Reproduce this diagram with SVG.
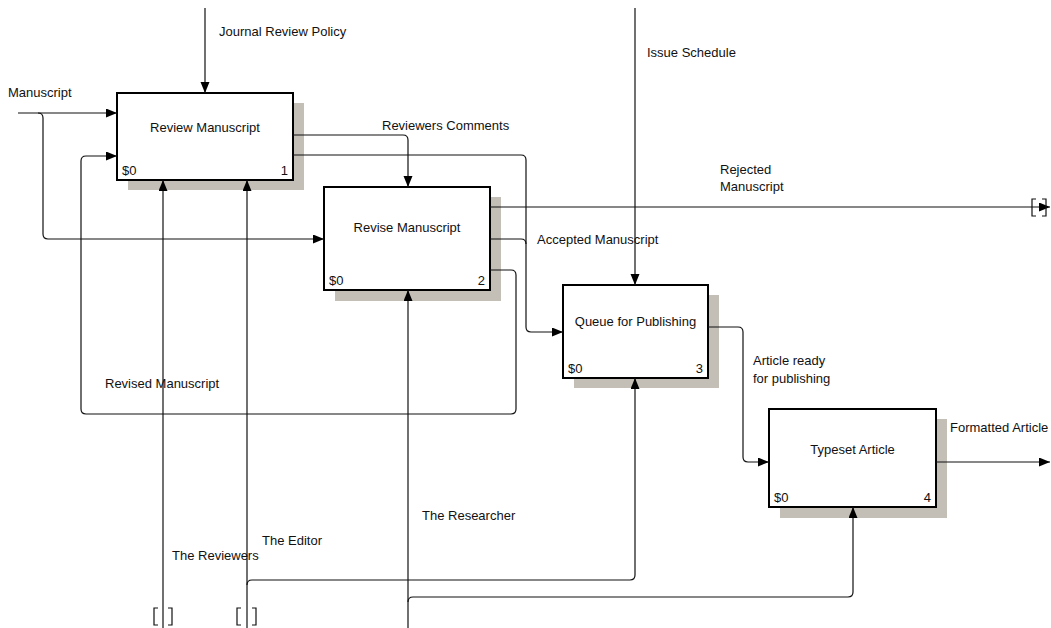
<svg xmlns="http://www.w3.org/2000/svg" width="1051" height="628" viewBox="0 0 1051 628">
<style>
text{font-family:"Liberation Sans",Arial,sans-serif;font-size:13px;fill:#111}
.mid{text-anchor:middle}
.end{text-anchor:end}
.box{fill:#fff;stroke:#000;stroke-width:2}
.shd{fill:#c3bfb6}
.c{fill:none;stroke:#111;stroke-width:1.2}
.t{fill:none;stroke:#111;stroke-width:1.2}
</style>
<defs>
<marker id="ah" markerUnits="userSpaceOnUse" markerWidth="12" markerHeight="10" refX="11" refY="4.5" orient="auto">
<path d="M0,0 L11,4.5 L0,9 z" fill="#000"/>
</marker>
</defs>
<g id="node1">
<rect class="shd" x="128" y="103" width="176" height="87"/>
<rect class="box" x="117" y="93" width="176" height="87"/>
<text class="mid" x="205" y="132">Review Manuscript</text>
<text x="122" y="175">$0</text>
<text class="end" x="288" y="175">1</text>
</g>
<g id="node2">
<rect class="shd" x="335" y="197" width="166" height="104"/>
<rect class="box" x="324" y="187" width="166" height="103"/>
<text class="mid" x="407" y="232">Revise Manuscript</text>
<text x="329" y="285">$0</text>
<text class="end" x="485" y="285">2</text>
</g>
<g id="node3">
<rect class="shd" x="574" y="295" width="145" height="93"/>
<rect class="box" x="563" y="285" width="145" height="93"/>
<text class="mid" x="635.5" y="326">Queue for Publishing</text>
<text x="568" y="373">$0</text>
<text class="end" x="703" y="373">3</text>
</g>
<g id="node4">
<rect class="shd" x="780" y="419" width="167" height="99"/>
<rect class="box" x="769" y="409" width="167" height="98"/>
<text class="mid" x="852.5" y="454">Typeset Article</text>
<text x="774" y="502">$0</text>
<text class="end" x="931" y="502">4</text>
</g>
<g id="connectors">
<path class="c" d="M18,113 H117" marker-end="url(#ah)"/>
<path class="c" d="M38,113 Q43,113 43,118 V234 Q43,239 48,239 H324" marker-end="url(#ah)"/>
<path class="c" d="M205,8 V93" marker-end="url(#ah)"/>
<path class="c" d="M635,8 V285" marker-end="url(#ah)"/>
<path class="c" d="M293,135 H403 Q408,135 408,140 V187" marker-end="url(#ah)"/>
<path class="c" d="M293,155 H521 Q526,155 526,160 V327 Q526,332 531,332 H563" marker-end="url(#ah)"/>
<path class="c" d="M490,239 H521 Q526,239 526,244"/>
<path class="c" d="M490,207 H1050" marker-end="url(#ah)"/>
<path class="t" d="M1036,199 H1032 V216 H1036 M1042,199 H1046 V216 H1042"/>
<path class="c" d="M490,270 H511 Q516,270 516,275 V409 Q516,414 511,414 H86 Q81,414 81,409 V161 Q81,156 86,156 H117" marker-end="url(#ah)"/>
<path class="c" d="M708,327 H738 Q743,327 743,332 V457 Q743,462 748,462 H769" marker-end="url(#ah)"/>
<path class="c" d="M936,462 H1050" marker-end="url(#ah)"/>
<path class="c" d="M163,628 V180" marker-end="url(#ah)"/>
<path class="t" d="M158,608 H154 V625 H158 M168,608 H172 V625 H168"/>
<path class="c" d="M247,628 V180" marker-end="url(#ah)"/>
<path class="t" d="M241,608 H237 V625 H241 M252,608 H256 V625 H252"/>
<path class="c" d="M247,585 Q247,580 252,580 H630 Q635,580 635,575 V378" marker-end="url(#ah)"/>
<path class="c" d="M408,628 V290" marker-end="url(#ah)"/>
<path class="c" d="M408,602 Q408,597 413,597 H848 Q853,597 853,592 V507" marker-end="url(#ah)"/>
</g>
<g id="labels">
<text x="8" y="97">Manuscript</text>
<text x="219" y="36">Journal Review Policy</text>
<text x="382" y="130">Reviewers Comments</text>
<text x="720" y="174">Rejected</text>
<text x="720" y="191">Manuscript</text>
<text x="537" y="244">Accepted Manuscript</text>
<text x="647" y="57">Issue Schedule</text>
<text x="753" y="365">Article ready</text>
<text x="753" y="383">for publishing</text>
<text x="950" y="432">Formatted Article</text>
<text x="105" y="388">Revised Manuscript</text>
<text x="172" y="560">The Reviewers</text>
<text x="262" y="545">The Editor</text>
<text x="422" y="520">The Researcher</text>
</g>
</svg>
